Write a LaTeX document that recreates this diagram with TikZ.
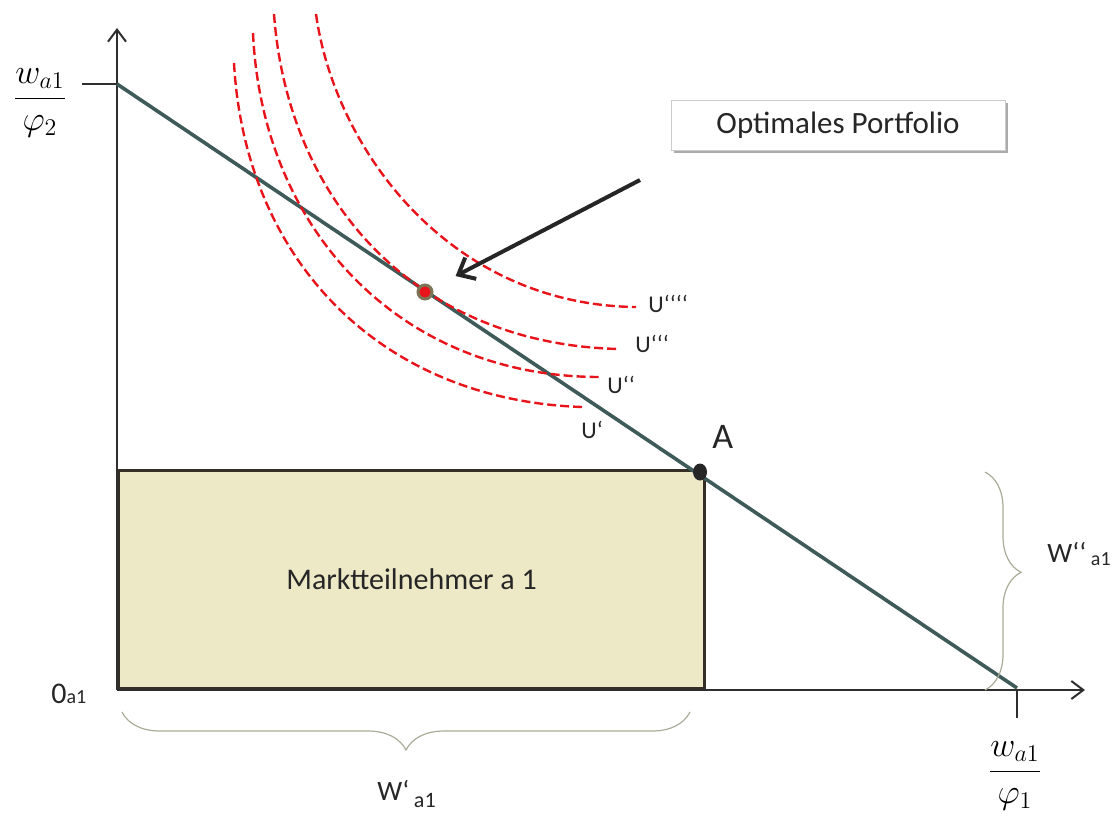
\documentclass[tikz,border=0pt]{standalone}
\usepackage{fontspec}
\setmainfont{Carlito}
\usetikzlibrary{arrows.meta,positioning,shapes.geometric,decorations.pathreplacing,shadows}
\definecolor{budline}{HTML}{3E5B5A}
\definecolor{axisgray}{HTML}{2E2E2E}
\definecolor{mktfill}{HTML}{EDE8C5}
\definecolor{mktline}{HTML}{352E24}
\definecolor{icred}{HTML}{E8141C}
\definecolor{braceline}{HTML}{A9AC98}
\definecolor{dotring}{HTML}{7D7455}
\definecolor{txtgray}{HTML}{262626}

\begin{document}
\begin{tikzpicture}[
  x=0.5pt, y=-0.5pt,
  axis/.style   = {draw=axisgray, line width=1pt, -{Straight Barb[length=6pt,width=9pt]}},
  tick/.style   = {draw=axisgray, line width=1pt},
  budget/.style = {draw=budline, line width=1.8pt},
  mkt/.style    = {draw=mktline, fill=mktfill, line width=1.6pt, inner sep=0pt,
                   font=\fontsize{15}{18}\selectfont, text=txtgray},
  ic/.style     = {draw=icred, line width=1.2pt, dash pattern=on 4.5pt off 2pt},
  iclbl/.style  = {font=\fontsize{12}{14}\selectfont, text=txtgray, inner sep=0pt, anchor=base west},
  optdot/.style = {circle, fill=icred, draw=dotring, line width=1.5pt, minimum size=7pt, inner sep=0pt},
  adot/.style   = {ellipse, fill=black!85, minimum width=7pt, minimum height=8.5pt, inner sep=0pt},
  callout/.style= {draw=black!20, fill=white, minimum width=167pt, minimum height=25pt,
                   font=\fontsize{15.5}{18}\selectfont, text=txtgray,
                   drop shadow={shadow xshift=1.5pt, shadow yshift=-1.5pt, fill=black!55, opacity=0.6}},
  ptr/.style    = {draw=txtgray, line width=2pt, -{Straight Barb[length=7pt,width=12pt]}},
  brc/.style    = {draw=braceline, line width=0.6pt, decorate},
  frac/.style   = {font=\fontsize{17}{20}\selectfont, inner sep=0pt},
]
\useasboundingbox (0,0) rectangle (1112,816);

% --- axes and budget line ----------------------------------------------------------------------
\coordinate (O)     at (117,690);
\coordinate (ytop)  at (117,28);
\coordinate (xend)  at (1085,690);
\coordinate (B)     at (117,84);
\coordinate (C)     at (1017,688);
\coordinate (tickw) at (82,84);
\coordinate (ticks) at (1017,718);

\node[mkt, minimum width=293pt, minimum height=109pt, anchor=south west] (mkt) at (O)
  {Marktteilnehmer a 1};

\draw[axis] (O) -- (ytop);
\draw[axis] (O) -- (xend);
\draw[tick] (tickw) -- (B);
\draw[tick] (C |- O) -- (ticks);
\draw[budget] (B) -- (C);

% --- indifference curves -----------------------------------------------------------------------
\draw[ic] (234,63) .. controls (245,260) and (380,400) .. (582,407);
\draw[ic] (253,33) .. controls (262,230) and (400,377) .. (600,377);
\draw[ic] (274,14) .. controls (288,205) and (420,345) .. (620,349);
\draw[ic] (316,14) .. controls (335,150) and (450,305) .. (636,307);

\node[iclbl] (u1) at (581,438) {U‘};
\node[iclbl] (u2) at (607,393) {U‘‘};
\node[iclbl] (u3) at (635,352) {U‘‘‘};
\node[iclbl] (u4) at (648,312) {U‘‘‘‘};

% --- points ------------------------------------------------------------------------------------
\node[optdot] (P) at (425,292) {};
\node[adot]   (A) at (700,472) {};
\node[font=\fontsize{18}{20}\selectfont, text=txtgray, inner sep=0pt, anchor=base west]
  (Albl) at (712,448) {A};

\node[callout] (opt) at (838,125) {Optimales Portfolio};
\coordinate (ptrtail) at (640,180);
\draw[ptr, shorten >=13pt] (ptrtail) -- (P);

% --- axis labels -------------------------------------------------------------------------------
\node[frac] (ymax) at (40,103) {$\displaystyle\frac{w_{a1}}{\varphi_2}$};
\node[frac] (xmax) at (1015,776) {$\displaystyle\frac{w_{a1}}{\varphi_1}$};
\node[inner sep=0pt, anchor=base west, text=txtgray] (olbl) at (51,703)
  {{\fontsize{15}{18}\selectfont 0}{\fontsize{10}{12}\selectfont a1}};

% --- braces ------------------------------------------------------------------------------------
\draw[brc, decoration={brace, amplitude=19pt}] (690,712) -- (122,712);
\draw[brc, decoration={brace, amplitude=18pt, aspect=0.46}] (985,472) -- (985,690);

\node[inner sep=0pt, anchor=base west, text=txtgray] (wone) at (377,800)
  {\fontsize{14}{16}\selectfont W‘\,\raisebox{-3.5pt}{\fontsize{11}{12}\selectfont a1}};
\node[inner sep=0pt, anchor=base west, text=txtgray] (wtwo) at (1047,562)
  {\fontsize{14}{16}\selectfont W‘‘\,\raisebox{-1.5pt}{\fontsize{10}{12}\selectfont a1}};

\end{tikzpicture}
\end{document}
